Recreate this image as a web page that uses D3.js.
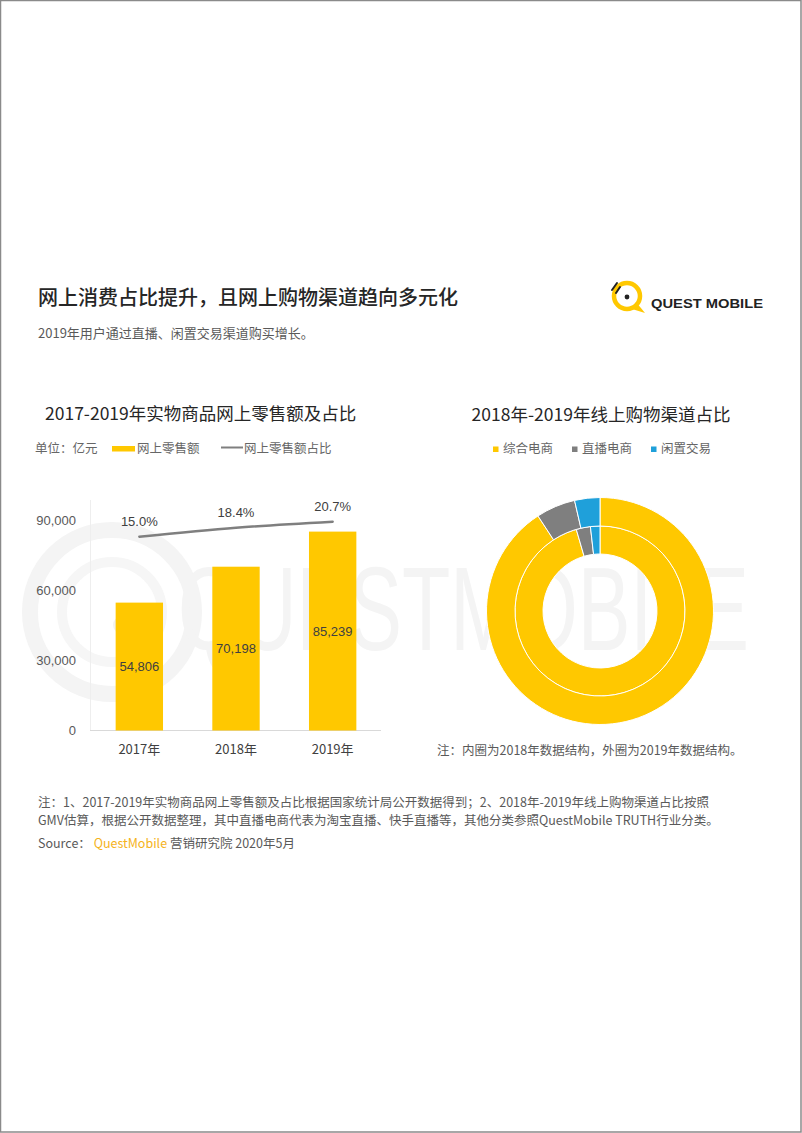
<!DOCTYPE html>
<html><head><meta charset="utf-8">
<script src="https://cdn.jsdelivr.net/npm/d3@7"></script>
<style>
html,body{margin:0;padding:0;background:#fff;}
svg{display:block;}
text{font-family:"Liberation Sans","Noto Sans CJK SC",sans-serif;}
.cjk{font-family:"Noto Sans CJK SC","Liberation Sans",sans-serif;}
</style></head>
<body>
<script>
// ---------- data ----------
const years = ["2017年", "2018年", "2019年"];
const salesValues = [54806, 70198, 85239];
const shareValues = [0.150, 0.184, 0.207];
const yTicks = [0, 30000, 60000, 90000];
const channels = ["综合电商", "直播电商", "闲置交易"];
const channelColors = ["#FFC800", "#7F7F7F", "#1FA0DA"];
const share2018 = [95.5, 2.7, 1.8];
const share2019 = [90.8, 5.6, 3.6];

const W = 802, H = 1133;
const svg = d3.select("body").append("svg").attr("width", W).attr("height", H);

// page border
svg.append("rect").attr("x", 0.5).attr("y", 0.5).attr("width", W - 1.5).attr("height", H - 1.5)
  .attr("fill", "#fff").attr("stroke", "#8a8a8a").attr("stroke-width", 1.5);

// watermark
const wm = svg.append("g");
wm.append("circle").attr("cx", 112).attr("cy", 612).attr("r", 82).attr("fill", "none").attr("stroke", "#f4f4f4").attr("stroke-width", 16);
wm.append("circle").attr("cx", 112).attr("cy", 612).attr("r", 50).attr("fill", "none").attr("stroke", "#f6f6f6").attr("stroke-width", 10);
wm.append("circle").attr("cx", 122).attr("cy", 625).attr("r", 9).attr("fill", "#f2f2f2");
wm.append("text").attr("transform", "translate(178,650) scale(0.67,1)").attr("font-size", 118)
  .attr("fill", "#f4f4f4").text("QUESTMOBILE");

// ---------- header ----------
svg.append("text").attr("class", "cjk").attr("x", 38).attr("y", 305).attr("font-size", 20).attr("font-weight", 500)
  .attr("fill", "#262626").text("网上消费占比提升，且网上购物渠道趋向多元化");
svg.append("text").attr("class", "cjk").attr("x", 38).attr("y", 337.5).attr("font-size", 13)
  .attr("fill", "#595959").text("2019年用户通过直播、闲置交易渠道购买增长。");

// logo
const logo = svg.append("g");
logo.append("path").attr("d", "M636,302 L645,313 L632,309 Z").attr("fill", "#FFC800");
logo.append("circle").attr("cx", 627).attr("cy", 296).attr("r", 13).attr("fill", "none").attr("stroke", "#FFC800").attr("stroke-width", 4.5);
logo.append("circle").attr("cx", 627).attr("cy", 297).attr("r", 2.4).attr("fill", "#222");
logo.append("path").attr("d", "M612,290 L617,283 M616,293 L620,287").attr("stroke", "#222").attr("stroke-width", 2).attr("stroke-linecap", "round");
logo.append("text").attr("x", 651).attr("y", 307.5).attr("font-size", 13.5).attr("font-weight", 600)
  .attr("font-family", "'Open Sans','Liberation Sans',sans-serif")
  .attr("fill", "#222").attr("textLength", 112).attr("lengthAdjust", "spacingAndGlyphs").text("QUEST MOBILE");

// ---------- bar chart ----------
svg.append("text").attr("class", "cjk").attr("x", 45).attr("y", 419.5).attr("font-size", 17.5)
  .attr("fill", "#262626").text("2017-2019年实物商品网上零售额及占比");

const lg = svg.append("g").attr("font-size", 12.5).attr("fill", "#666");
lg.append("text").attr("class", "cjk").attr("x", 35).attr("y", 452.5).text("单位：亿元");
lg.append("rect").attr("x", 112).attr("y", 446).attr("width", 23).attr("height", 5.5).attr("fill", channelColors[0]);
lg.append("text").attr("class", "cjk").attr("x", 137).attr("y", 452.5).text("网上零售额");
lg.append("line").attr("x1", 221).attr("x2", 243).attr("y1", 447.5).attr("y2", 447.5).attr("stroke", "#7F7F7F").attr("stroke-width", 2);
lg.append("text").attr("class", "cjk").attr("x", 244).attr("y", 452.5).text("网上零售额占比");

const x = d3.scaleBand().domain(years).range([91, 381]).paddingInner(0.51).paddingOuter(0.255);
const y = d3.scaleLinear().domain([0, 90000]).range([730.5, 520.5]);
const y2 = d3.scaleLinear().domain([0.10, 0.25]).range([549.9, 510.45]);

// faint left plot border
svg.append("line").attr("x1", 90.5).attr("x2", 90.5).attr("y1", 500).attr("y2", 730.5).attr("stroke", "#eeeeee");

const yAxis = svg.append("g").attr("transform", "translate(76,0)")
  .call(d3.axisLeft(y).tickValues(yTicks).tickSize(0).tickPadding(0).tickFormat(d3.format(",")));
yAxis.select(".domain").remove();
yAxis.selectAll("text").attr("font-size", 13).attr("fill", "#595959").attr("font-family", "'Liberation Sans',sans-serif");

const xAxis = svg.append("g").attr("transform", "translate(0,730.5)")
  .call(d3.axisBottom(x).tickSize(0).tickPadding(14));
xAxis.select(".domain").attr("stroke", "#d9d9d9").attr("d", "M90,0H381");
xAxis.selectAll("text").attr("font-size", 13).attr("fill", "#404040").attr("class", "cjk");

svg.append("g").selectAll("rect").data(salesValues).join("rect")
  .attr("x", (d, i) => x(years[i])).attr("width", x.bandwidth())
  .attr("y", d => y(d)).attr("height", d => y(0) - y(d)).attr("fill", channelColors[0]);

svg.append("g").selectAll("text").data(salesValues).join("text")
  .attr("x", (d, i) => x(years[i]) + x.bandwidth() / 2).attr("y", d => (y(d) + y(0)) / 2 + 4.5)
  .attr("text-anchor", "middle").attr("font-size", 13).attr("fill", "#404040")
  .text(d => d3.format(",")(d));

const line = d3.line().x((d, i) => x(years[i]) + x.bandwidth() / 2).y(d => y2(d)).curve(d3.curveMonotoneX);
svg.append("path").datum(shareValues).attr("d", line).attr("fill", "none")
  .attr("stroke", "#7F7F7F").attr("stroke-width", 2.5).attr("stroke-linecap", "round");
svg.append("g").selectAll("text").data(shareValues).join("text")
  .attr("x", (d, i) => x(years[i]) + x.bandwidth() / 2).attr("y", d => y2(d) - 10.5)
  .attr("text-anchor", "middle").attr("font-size", 13).attr("fill", "#404040")
  .text(d => d3.format(".1%")(d));

// ---------- donut ----------
svg.append("text").attr("class", "cjk").attr("x", 601).attr("y", 421).attr("text-anchor", "middle")
  .attr("font-size", 17.5).attr("fill", "#262626").text("2018年-2019年线上购物渠道占比");

const legX = [493, 572, 651];
const dl = svg.append("g");
channels.forEach((c, i) => {
  dl.append("rect").attr("x", legX[i]).attr("y", 446.5).attr("width", 5.5).attr("height", 5.5).attr("fill", channelColors[i]);
  dl.append("text").attr("class", "cjk").attr("x", legX[i] + 10).attr("y", 453).attr("font-size", 12.5).attr("fill", "#666").text(c);
});

const cx = 600, cy = 611;
const pie = d3.pie().sort(null).value(d => d);
const dg = svg.append("g").attr("transform", `translate(${cx},${cy})`);
const arcIn = d3.arc().innerRadius(57).outerRadius(85);
const arcOut = d3.arc().innerRadius(85).outerRadius(113.5);
dg.append("g").selectAll("path").data(pie(share2018)).join("path")
  .attr("d", arcIn).attr("fill", (d, i) => channelColors[i]).attr("stroke", "#fff").attr("stroke-width", 1);
dg.append("g").selectAll("path").data(pie(share2019)).join("path")
  .attr("d", arcOut).attr("fill", (d, i) => channelColors[i]).attr("stroke", "#fff").attr("stroke-width", 1);

svg.append("text").attr("class", "cjk").attr("x", 437).attr("y", 754.5).attr("font-size", 12.5)
  .attr("fill", "#595959").text("注：内圈为2018年数据结构，外圈为2019年数据结构。");

// ---------- footnotes ----------
const fn = svg.append("g").attr("font-size", 12.5).attr("fill", "#595959");
fn.append("text").attr("class", "cjk").attr("x", 38).attr("y", 806.5)
  .text("注：1、2017-2019年实物商品网上零售额及占比根据国家统计局公开数据得到；2、2018年-2019年线上购物渠道占比按照");
fn.append("text").attr("class", "cjk").attr("x", 38).attr("y", 824.5)
  .text("GMV估算，根据公开数据整理，其中直播电商代表为淘宝直播、快手直播等，其他分类参照QuestMobile TRUTH行业分类。");
const src = fn.append("text").attr("class", "cjk").attr("x", 38).attr("y", 847.5);
src.append("tspan").text("Source： ");
src.append("tspan").attr("fill", "#F5B31B").text("QuestMobile");
src.append("tspan").text(" 营销研究院 2020年5月");
</script>
</body></html>
